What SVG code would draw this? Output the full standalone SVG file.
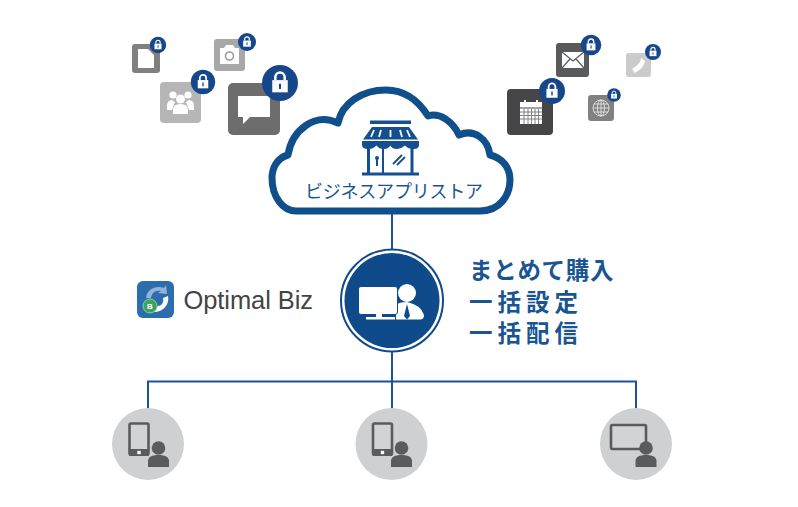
<svg xmlns="http://www.w3.org/2000/svg" width="798" height="507" viewBox="0 0 798 507">
<style>
.w{fill:#fff}
.line{fill:none;stroke:#1c5396;stroke-width:2}
.jp{font-family:"Noto Sans CJK JP","Noto Sans",sans-serif;fill:#1a5592}
.big{font-size:23.5px;font-weight:700;letter-spacing:.7px}
.wide{letter-spacing:5px}
.dk{fill:#5a5b5d}
.bc{fill:#cfd0d2}
</style>
<defs>
<g id="lock">
<circle r="10" fill="#16468c"/>
<rect x="-4.300" y="-1.600" width="8.600" height="6.800" class="w"/>
<path d="M-2.600-1.600V-3.200a2.600 2.600 0 0 1 5.200 0V-1.600" fill="none" stroke="#fff" stroke-width="1.400"/>
<path d="M0 .4V3.400" stroke="#16468c" stroke-width="1.100"/>
</g>
<g id="tablet">
<rect x="1.500" y="1.500" width="19" height="31" rx="1.500" fill="#d2d3d5" stroke="#5a5b5d" stroke-width="2.600"/>
<rect x="1" y="27" width="20" height="7" rx="1" class="dk"/>
<rect x="9.300" y="28.800" width="3.400" height="3.400" class="w"/>
</g>
<g id="user">
<circle cx="10.500" cy="7" r="6.800" class="dk"/>
<path d="M0 26V20C0 16 4 14 10.500 14S21 16 21 20V26Z" class="dk"/>
</g>
</defs>

<g id="connectors">
<path class="line" d="M392 213V249M392 352V408"/>
<path class="line" d="M148 408V381.500H636V408"/>
</g>

<g id="icon-doc">
<rect x="132" y="44" width="28" height="29" rx="3" fill="#808080"/>
<path d="M138 49H148L154 55V68H138Z" class="w"/>
<use href="#lock" transform="translate(158 45) scale(.82)"/>
</g>
<g id="icon-camera">
<rect x="214" y="39" width="31" height="32" rx="3" fill="#a8a8a8"/>
<path d="M220 48H224L226 45H233L235 48H239V64H220Z" class="w"/>
<circle cx="229.500" cy="56" r="4" fill="none" stroke="#9a9a9a" stroke-width="1.600"/>
<use href="#lock" transform="translate(247 42) scale(.9)"/>
</g>
<g id="icon-people">
<rect x="160" y="82" width="41" height="41" rx="4" fill="#b6b6b6"/>
<g class="w">
<circle cx="173" cy="95" r="3.600"/><circle cx="188" cy="95" r="3.600"/><circle cx="180.500" cy="99" r="4.500"/>
<path d="M167 110V106Q167 100 172 100L175 102 172 110ZM194 110V106Q194 100 189 100L186 102 189 110Z"/>
<path d="M173 114V110Q173 104 180.500 104T188 110V114Z"/>
</g>
<use href="#lock" transform="translate(203 82) scale(1.220)"/>
</g>
<g id="icon-chat">
<rect x="228" y="83" width="52" height="52" rx="5" fill="#6d6d6e"/>
<path d="M238 96H270V117H250L243 124V117H238Z" class="w"/>
<use href="#lock" transform="translate(280 83) scale(1.800)"/>
</g>
<g id="icon-mail">
<rect x="556" y="43" width="33" height="34" rx="3" fill="#595a5c"/>
<rect x="562" y="52" width="22" height="16" class="w"/>
<path d="M562 52L573 61 584 52M562 68L570 59M584 68L576 59" fill="none" stroke="#595a5c" stroke-width="1.200"/>
<use href="#lock" transform="translate(591 45) scale(1.030)"/>
</g>
<g id="icon-phone">
<rect x="626" y="53" width="25" height="24" rx="3" fill="#cbcbcb"/>
<path d="M641 58L645 61Q644 68 635 73L632 69Q637 66 640 62Z" class="w"/>
<use href="#lock" transform="translate(653 52) scale(.8)"/>
</g>
<g id="icon-calendar">
<rect x="507" y="89" width="46" height="46" rx="4" fill="#464648"/>
<rect x="520" y="102" width="22" height="22" class="w"/>
<path d="M525 100V104M537 100V104" stroke="#fff" stroke-width="2"/>
<path d="M520 108H542" stroke="#464648" stroke-width="1"/>
<path d="M520 112H542M520 115.500H542M520 119H542M524 109V124M528 109V124M531.500 109V124M535 109V124M538.500 109V124" stroke="#777" stroke-width=".9"/>
<use href="#lock" transform="translate(552 91) scale(1.300)"/>
</g>
<g id="icon-globe">
<rect x="588" y="95" width="26" height="26" rx="3" fill="#818181"/>
<g fill="none" stroke="#e4e4e4" stroke-width=".9">
<circle cx="601" cy="108" r="8"/><ellipse cx="601" cy="108" rx="3.500" ry="8"/>
<path d="M601 100V116M593 108H609M594 104H608M594 112H608"/>
</g>
<use href="#lock" transform="translate(614 95) scale(.68)"/>
</g>

<g id="cloud">
<path d="M296 211H480C500 211 510 195 510 180C510 167 502 158 490 155C488 140 475 128 459 135C453 122 440 112 428 116C418 100 405 90 386 90C362 90 342 103 338 123C315 112 292 130 288 155C277 158 272 168 272 178C272 197 283 211 296 211Z" fill="#fff" stroke="#0f4f8c" stroke-width="7" stroke-linejoin="round"/>
<g fill="#14508f">
<rect x="370" y="120.500" width="41" height="3.500"/>
<path d="M372 127H409L418 139.500H363Z"/>
<path d="M362 141H419V145Q419 149 414 149Q408 149 405 145.500Q401 149 397 149Q392 149 390.500 145.500Q388 149 384 149Q379 149 376.500 145.500Q373 149 368 149Q362 149 362 145Z"/>
<rect x="367" y="148" width="3" height="25"/><rect x="382" y="148" width="2" height="25"/><rect x="410.500" y="148" width="3" height="25"/>
<rect x="362" y="172.500" width="57" height="3"/>
<path d="M377 157V166" stroke="#14508f" stroke-width="2"/>
<circle cx="377" cy="158" r="2"/>
<path d="M393 164L402 155M397 165L405 157" stroke="#14508f" stroke-width="1.800"/>
</g>
<path d="M374 130L371 137M381 130L379 137M390.500 130V137M400 130L402 137M407 130L410 137" stroke="#fff" stroke-width="1.800"/>
<text class="jp" x="305" y="198" font-size="18" textLength="178" lengthAdjust="spacing">ビジネスアプリストア</text>
</g>

<g id="admin">
<circle cx="392" cy="300.500" r="51" fill="#fff" stroke="#12498a" stroke-width="2"/>
<circle cx="392" cy="300.500" r="47.500" fill="#0f4b8a"/>
<circle cx="407" cy="293" r="9" class="w"/>
<path d="M396 319.500V305Q399 302 407 302Q421 305 424 315Q424 319.500 420 319.500Z" class="w"/>
<path d="M407 304L404 316 407 319.500 410 316Z" fill="#0f4b8a"/>
<rect x="358.500" y="286.500" width="39" height="28" rx="2.500" class="w" stroke="#0f4b8a" stroke-width="1"/>
<rect x="366" y="317" width="29" height="2.500" class="w"/>
<rect x="376" y="314" width="6" height="3" class="w"/>
</g>

<g id="optimal-biz">
<rect x="137" y="281" width="37" height="37" rx="6" fill="#2b6dad"/>
<path d="M146 298C147 289 156 285 164 288L166 285 167 294 158 293 161 291C155 290 152 293 151 298Z" fill="#8fb4d8"/>
<path d="M168 296C170 304 163 313 152 312L158 306C162 306 164 302 163 298Z" fill="#fff"/>
<circle cx="150" cy="306" r="7" fill="#3aa55a" stroke="#8fd0a0" stroke-width="1"/>
<text x="150" y="309" font-size="8" font-weight="700" text-anchor="middle" fill="#fff" font-family="Liberation Sans,sans-serif">B</text>
<text x="183.500" y="309" font-size="25.500" fill="#444" font-family="Liberation Sans,Arial,sans-serif" textLength="129.500" lengthAdjust="spacing">Optimal Biz</text>
</g>

<g id="features">
<text class="jp big" x="469" y="279">まとめて購入</text>
<text class="jp big wide" x="469" y="311">一括設定</text>
<text class="jp big wide" x="469" y="342">一括配信</text>
</g>

<g id="device-left">
<circle cx="148" cy="444" r="36" class="bc"/>
<use href="#tablet" x="128" y="422"/>
<use href="#user" x="148" y="441"/>
</g>
<g id="device-center">
<circle cx="391.500" cy="444" r="36" class="bc"/>
<use href="#tablet" x="371.500" y="422"/>
<use href="#user" x="391" y="441"/>
</g>
<g id="device-right">
<circle cx="636" cy="444" r="36" class="bc"/>
<rect x="611" y="425" width="35" height="24" rx="1.500" fill="#d2d3d5" stroke="#5a5b5d" stroke-width="2.600"/>
<use href="#user" x="635.500" y="441"/>
</g>
</svg>
